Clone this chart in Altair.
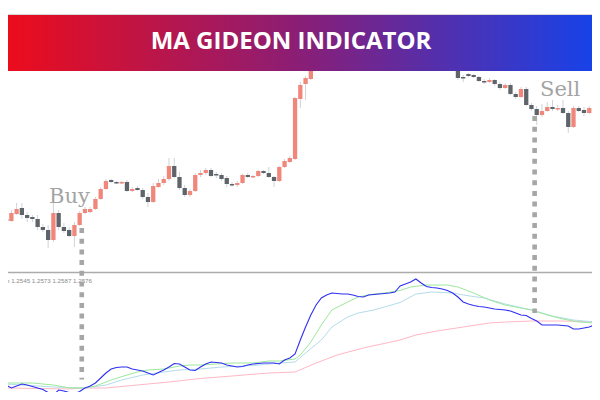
import altair as alt
import pandas as pd

# ---------------- data (prices in points, 1 point = 0.0001) ----------------
open_pts = [12551, 12549, 12556, 12562, 12555, 12553, 12551, 12543, 12540, 12530,
            12557, 12543, 12540, 12534, 12545, 12557, 12558, 12561, 12571, 12581,
            12590, 12588, 12586.5, 12588, 12579, 12582, 12580, 12573, 12568, 12583,
            12587, 12591, 12604, 12593, 12582, 12575, 12579, 12595, 12597, 12600,
            12596, 12595, 12592, 12586, 12585, 12587, 12595, 12592.5, 12594, 12599,
            12597, 12593, 12589, 12603, 12608, 12611, 12671, 12686, 12691, 12708,
            12715, 12720, 12717, 12725, 12728, 12724, 12730, 12727, 12733, 12730,
            12735, 12737, 12734, 12739, 12741, 12738, 12743, 12737, 12732, 12726,
            12722, 12724, 12717, 12713, 12710, 12712, 12704, 12693, 12696, 12695,
            12693, 12689, 12688, 12690, 12686, 12682, 12685, 12676, 12673, 12681,
            12665, 12661, 12655, 12659, 12663, 12660.5, 12662, 12657, 12643, 12662,
            12660, 12657]
high_pts = [12554, 12560, 12567, 12567, 12558, 12555, 12555, 12546, 12545, 12567,
            12560, 12547, 12543, 12548, 12559, 12563, 12563, 12573, 12583, 12591,
            12591, 12589, 12589, 12590, 12583, 12584, 12582, 12577, 12587, 12591,
            12594, 12612, 12612, 12598, 12585, 12581, 12597, 12600, 12602, 12602,
            12598, 12597, 12594, 12588, 12589, 12596, 12597, 12595, 12600, 12600,
            12603, 12594, 12604, 12611, 12614, 12673, 12688, 12694, 12710, 12717,
            12722, 12723, 12727, 12730, 12730, 12733, 12732, 12735, 12735, 12737,
            12739, 12739, 12741, 12743, 12743, 12745, 12745, 12739, 12734, 12728,
            12726, 12726, 12719, 12715, 12714, 12714, 12706, 12695, 12697, 12696,
            12694, 12691, 12692, 12691, 12688, 12687, 12687, 12678, 12683, 12683,
            12667, 12664, 12666, 12668, 12670, 12665, 12670, 12659, 12664, 12664,
            12663, 12664]
low_pts = [12547, 12548, 12555, 12551, 12548, 12548, 12540, 12538, 12522, 12528,
           12540, 12537, 12533, 12523, 12544, 12556, 12557, 12560, 12570, 12580,
           12587, 12586, 12586, 12578, 12578, 12579, 12571, 12563, 12567, 12582,
           12585, 12589, 12592, 12580, 12573, 12573, 12578, 12593, 12595, 12593,
           12592, 12589, 12583, 12583, 12583, 12586, 12592, 12592, 12593, 12596,
           12592, 12583, 12588, 12602, 12607, 12610, 12662, 12670, 12690, 12706,
           12713, 12714, 12715, 12723, 12722, 12722, 12725, 12725, 12728, 12728,
           12733, 12732, 12732, 12737, 12736, 12736, 12735, 12730, 12724, 12720,
           12720, 12715, 12711, 12708, 12708, 12702, 12690, 12688, 12693, 12692,
           12688, 12686, 12687, 12684, 12680, 12681, 12675, 12671, 12672, 12664,
           12659, 12645, 12653, 12658, 12659, 12659, 12656, 12637, 12642, 12658,
           12654, 12656]
close_pts = [12549, 12557, 12561, 12555, 12552, 12551, 12543, 12540, 12530, 12557,
             12543, 12539, 12534, 12545, 12557, 12561, 12561, 12571, 12581, 12589,
             12588, 12586.5, 12588, 12579, 12581, 12580, 12573, 12568, 12584, 12587,
             12591, 12604, 12593, 12582, 12575, 12579, 12595, 12597, 12600, 12594,
             12594.5, 12591, 12586, 12584.5, 12587, 12595, 12593, 12594, 12599, 12597,
             12593, 12589, 12603, 12609, 12612, 12672, 12685, 12692, 12708, 12715,
             12720, 12717, 12725, 12728, 12724, 12730, 12727, 12733, 12730, 12735,
             12737, 12734, 12739, 12741, 12738, 12743, 12737, 12732, 12726, 12722,
             12724, 12717, 12713, 12710, 12712, 12704, 12692, 12691.5, 12694, 12693,
             12689, 12687.5, 12690, 12686, 12682, 12685, 12676, 12673, 12681, 12665,
             12661, 12655, 12659, 12663, 12661, 12662, 12657, 12643, 12662, 12659,
             12657, 12662]

# indicator lines (points)
blue_vals = [12430, 12424, 12428, 12432, 12430, 12427, 12424, 12421, 12415, 12410,
             12420, 12418, 12415, 12412, 12417, 12424, 12428, 12434, 12444, 12454,
             12462, 12465, 12466, 12466, 12462, 12460, 12458, 12454, 12450, 12455,
             12460, 12466, 12473, 12472, 12466, 12460, 12459, 12466, 12472, 12476,
             12475, 12474, 12470, 12468, 12466, 12467, 12470, 12472, 12473, 12474,
             12474, 12474, 12472, 12480, 12484, 12492, 12520, 12546, 12570, 12590,
             12604, 12610, 12614, 12613, 12612, 12612, 12610, 12607, 12606, 12610,
             12611, 12612, 12613, 12614, 12616, 12628, 12632, 12636, 12642, 12634,
             12627, 12625, 12624, 12622, 12619, 12614, 12606, 12596, 12592, 12589,
             12587, 12586, 12584, 12582, 12581, 12580, 12578, 12574, 12570, 12569,
             12563, 12558, 12550, 12550, 12550, 12550, 12549, 12548, 12542, 12542,
             12544, 12546, 12550]
green_bars = [0, 5, 9, 12, 15, 17, 20, 23, 25, 27, 30, 33, 35, 37, 40, 43, 47, 50, 52, 55,
              56, 58, 60, 62, 65, 67, 70, 72, 75, 77, 80, 84, 86, 89, 92, 95, 100, 103,
              106, 109, 112]
green_vals = [12434, 12434, 12430, 12424, 12424, 12428, 12440, 12450, 12456, 12460,
              12462, 12468, 12470, 12470, 12472, 12474, 12474, 12478, 12478, 12482,
              12490, 12516, 12550, 12580, 12596, 12606, 12612, 12614, 12619, 12626,
              12630, 12630, 12626, 12614, 12600, 12590, 12580, 12570, 12562, 12556, 12554]
lblue_bars = [0, 9, 15, 19, 22, 26, 30, 33, 37, 41, 45, 48, 52, 55, 57, 60, 62, 65, 67, 70,
              72, 75, 78, 81, 85, 87, 91, 95, 100, 104, 108, 112]
lblue_vals = [12432, 12426, 12424, 12430, 12440, 12450, 12456, 12460, 12462, 12466,
              12468, 12470, 12474, 12476, 12494, 12520, 12546, 12566, 12574, 12580,
              12586, 12595, 12612, 12616, 12614, 12610, 12604, 12592, 12580, 12568,
              12560, 12556]
pink_bars = [0, 12, 15, 19, 25, 31, 37, 43, 50, 55, 59, 63, 68, 75, 78, 82, 87, 92, 95,
             100, 106, 112]
pink_vals = [12424, 12422, 12424, 12424, 12430, 12436, 12443, 12448, 12454, 12456,
             12474, 12490, 12504, 12520, 12530, 12538, 12546, 12554, 12556, 12558,
             12558, 12556]

indicator_name = "MA Gideon"
indicator_readout = [1.2545, 1.2573, 1.2587, 1.2576]
signal_bars = [14.4, 100.6]
signal_labels = ["Buy", "Sell"]
title_text = "MA GIDEON INDICATOR"

# ---------------- tables ----------------
P = 10000.0
candles = pd.DataFrame({
    "bar": list(range(len(open_pts))),
    "open": [v / P for v in open_pts],
    "high": [v / P for v in high_pts],
    "low": [v / P for v in low_pts],
    "close": [v / P for v in close_pts],
})
candles["dir"] = ["up" if c > o else "down" for o, c in zip(candles["open"], candles["close"])]

blue_df = pd.DataFrame({"bar": list(range(len(blue_vals))), "value": [v / P for v in blue_vals]})
green_df = pd.DataFrame({"bar": green_bars, "value": [v / P for v in green_vals]})
lblue_df = pd.DataFrame({"bar": lblue_bars, "value": [v / P for v in lblue_vals]})
pink_df = pd.DataFrame({"bar": pink_bars, "value": [v / P for v in pink_vals]})
signals = pd.DataFrame({"bar": signal_bars, "label": signal_labels})
one = pd.DataFrame({"k": [0]})

W, H = 584, 384
SALMON = "#f0877a"
GRAY = "#5f646b"
WICK = "#cfd3da"
DOT = "#a6a6a6"

X = alt.X("bar:Q", scale=alt.Scale(domain=[1.31, 110.57], range=[0, W], nice=False, zero=False), axis=None)
price_scale = alt.Scale(domain=[1.2500, 1.2762], range=[262, 0], nice=False, zero=False)
ind_scale = alt.Scale(domain=[1.2400, 1.2656], range=[392, 264], nice=False, zero=False)

wicks = alt.Chart(candles).mark_rule(color=WICK, strokeWidth=1, clip=True).encode(
    x=X, y=alt.Y("high:Q", scale=price_scale, axis=None), y2="low:Q")
bodies = alt.Chart(candles).mark_bar(size=4.3, clip=True, orient="vertical").encode(
    x=X, y=alt.Y("open:Q", scale=price_scale, axis=None), y2="close:Q",
    color=alt.Color("dir:N", scale=alt.Scale(domain=["up", "down"], range=[SALMON, GRAY]), legend=None))


def ind_line(df, color, width=1.0):
    return alt.Chart(df).mark_line(color=color, strokeWidth=width, clip=True).encode(
        x=X, y=alt.Y("value:Q", scale=ind_scale, axis=None))


pink = ind_line(pink_df, "#ffb8c4")
lblue = ind_line(lblue_df, "#b3dcea")
green = ind_line(green_df, "#9ce89c")
blue = ind_line(blue_df, "#2f2ff2", 1.1)

separator = alt.Chart(one).mark_rule(color="#acacac", strokeWidth=1.6).encode(
    x=alt.value(0), x2=alt.value(W), y=alt.value(264.5))
readout = alt.Chart(one).mark_text(
    text=indicator_name + " " + " ".join(f"{v:.4f}" for v in indicator_readout),
    font="Liberation Sans", fontSize=6.2, color="#8a8a8a", align="right", clip=True
).encode(x=alt.value(84), y=alt.value(272.5))

buy_line = alt.Chart(signals[signals.label == "Buy"]).mark_rule(
    color=DOT, strokeWidth=4.6, strokeDash=[5, 5.7], strokeCap="butt").encode(
    x=X, y=alt.value(220), y2=alt.value(371.5))
sell_line = alt.Chart(signals[signals.label == "Sell"]).mark_rule(
    color=DOT, strokeWidth=4.6, strokeDash=[5, 5.7], strokeCap="butt").encode(
    x=X, y=alt.value(108), y2=alt.value(305))

buy_text = alt.Chart(one).mark_text(
    text=signal_labels[0], font="DejaVu Serif", fontSize=21, color="#a3a3a3", align="left",
    baseline="alphabetic").encode(x=alt.value(41), y=alt.value(195))
sell_text = alt.Chart(one).mark_text(
    text=signal_labels[1], font="DejaVu Serif", fontSize=21, color="#a3a3a3", align="left",
    baseline="alphabetic").encode(x=alt.value(532), y=alt.value(88))

border = alt.Chart(one).mark_rule(color="#d6d6d6", strokeWidth=1).encode(
    x=alt.value(0), x2=alt.value(W), y=alt.value(6.5))
gradient = alt.LinearGradient(
    gradient="linear", x1=0, x2=1, y1=0, y2=0,
    stops=[alt.GradientStop(color="#ec0c1c", offset=0),
           alt.GradientStop(color="#8a1e76", offset=0.5),
           alt.GradientStop(color="#1842e8", offset=1)])
banner = alt.Chart(one).mark_rect(fill=gradient).encode(
    x=alt.value(0), x2=alt.value(W), y=alt.value(7), y2=alt.value(63))
title = alt.Chart(one).mark_text(
    text=title_text, font="Open Sans", fontSize=24, fontWeight="bold", color="white",
    align="center", baseline="alphabetic").encode(x=alt.value(283), y=alt.value(40.5))

chart = alt.layer(
    wicks, bodies, pink, lblue, green, blue, separator, readout,
    buy_line, sell_line, buy_text, sell_text, border, banner, title
).resolve_scale(y="independent").properties(
    width=W, height=H, padding=0, autosize=alt.AutoSizeParams(type="none")
).configure_view(stroke=None)

chart.save("out.html", embed_options={"renderer": "svg", "actions": False})
